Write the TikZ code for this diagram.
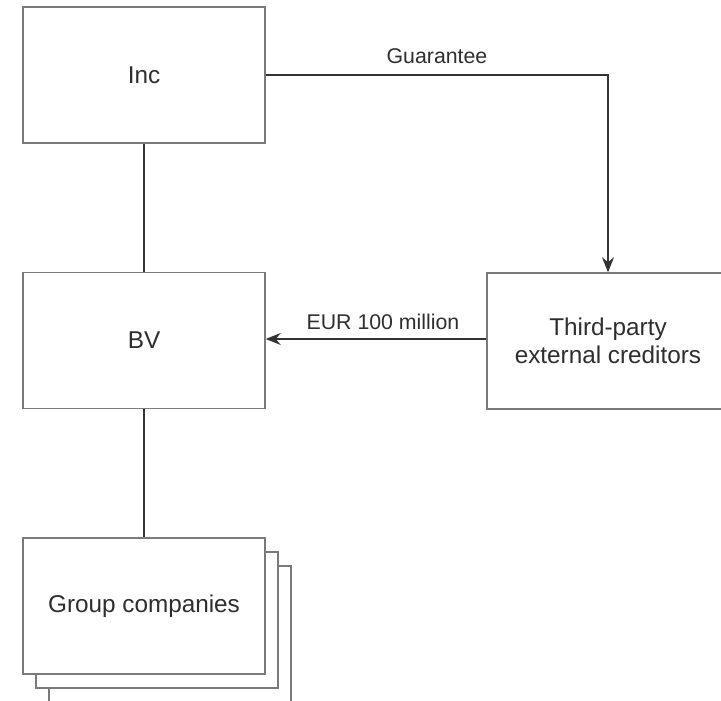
\documentclass[tikz,border=0pt]{standalone}
\usepackage{fontspec}
\setmainfont{Liberation Sans}
\usetikzlibrary{arrows.meta}
\definecolor{boxline}{HTML}{7A7A7A}
\definecolor{conline}{HTML}{333333}
\definecolor{txt}{HTML}{2E2E2E}
\begin{document}
\begin{tikzpicture}[x=1pt,y=-1pt,
  box/.style={draw=boxline, line width=1.5pt, fill=white, minimum width=242pt, minimum height=136pt,
    inner sep=0pt, font=\fontsize{24.3}{28.5}\selectfont, text=txt, align=center},
  conn/.style={draw=conline, line width=1.1pt},
  arr/.style={conn, -{Stealth[length=15pt, width=12pt, inset=5pt]}},
  lbl/.style={font=\fontsize{21.3}{25}\selectfont, text=txt, inner sep=0pt}]
\useasboundingbox (0,0) rectangle (721,701);
\clip (0,0) rectangle (721,701);
% boxes
\node[box] (inc) at (144,75) {Inc};
\node[box] (bv) at (144,340.5) {BV};
\node[box] (tp) at (608,341) {Third-party\\external creditors};
\node[box, minimum height=140pt] (gc3) at (170,636) {};
\node[box] (gc2) at (157,620) {};
\node[box] (gc1) at (144,606) {Group companies};
% connectors
\draw[conn] (inc.south) -- (bv.north);
\draw[conn] (bv.south) -- (gc1.north);
\coordinate (corner) at (tp.north |- inc.east);
\draw[arr] (inc.east) -- (corner) -- (tp.north);
\draw[arr] (tp.west |- 0,339) -- (bv.east |- 0,339);
% labels
\node[lbl] (glbl) at (437,56) {Guarantee};
\node[lbl] (elbl) at (383,322) {EUR 100 million};
\end{tikzpicture}
\end{document}
